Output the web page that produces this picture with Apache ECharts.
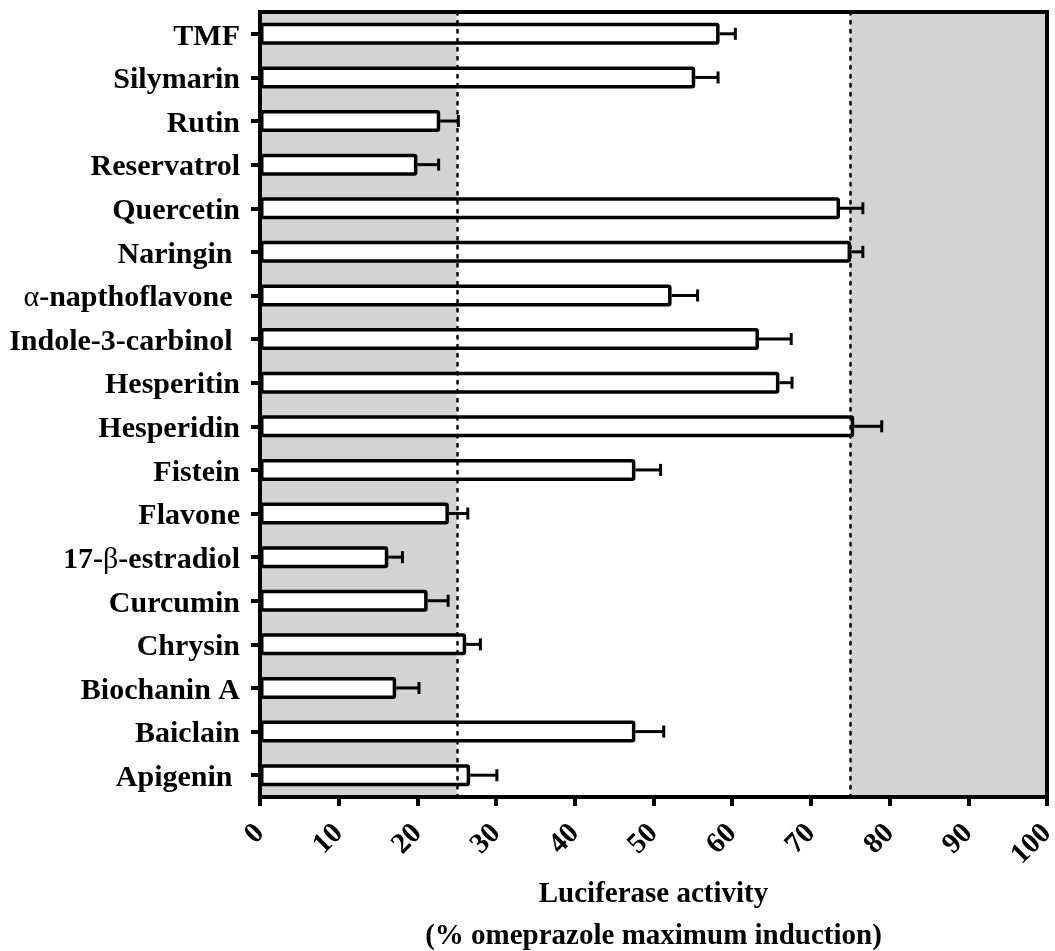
<!DOCTYPE html>
<html>
<head>
<meta charset="utf-8">
<script src="https://cdn.jsdelivr.net/npm/echarts@6/dist/echarts.min.js"></script>
<style>
  html, body { margin: 0; padding: 0; background: #fff; }
  #chart { width: 1055px; height: 951px; }
</style>
</head>
<body>
<div id="chart"></div>
<script>
// ---- data ----
const categories = ['TMF', 'Silymarin', 'Rutin', 'Reservatrol', 'Quercetin', 'Naringin ',
  'α-napthoflavone ', 'Indole-3-carbinol ', 'Hesperitin', 'Hesperidin', 'Fistein', 'Flavone',
  '17-β-estradiol', 'Curcumin', 'Chrysin', 'Biochanin A', 'Baiclain', 'Apigenin '];
const means = [58.4, 55.3, 22.9, 20.0, 73.7, 75.1, 52.3, 63.4, 66.0, 75.5, 47.7, 24.0, 16.3, 21.3, 26.2, 17.3, 47.7, 26.7];
const errors = [2.0, 2.9, 2.3, 2.7, 2.9, 1.5, 3.3, 4.1, 1.6, 3.5, 3.2, 2.4, 1.8, 2.6, 1.8, 2.9, 3.6, 3.4];
const xTicks = [0, 10, 20, 30, 40, 50, 60, 70, 80, 90, 100];
const shadedRanges = [[0, 25], [75, 100]];
const thresholds = [25, 75];
const xTitle = 'Luciferase activity\n(% omeprazole maximum induction)';

const FONT = '"Liberation Serif", "Times New Roman", serif';

const chart = echarts.init(document.getElementById('chart'), null, { renderer: 'canvas' });

function labelFmt(v) {
  // greek letters in regular weight, rest bold
  return v.split(/([αβ])/).filter(s => s.length).map(s =>
    (s === 'α' || s === 'β') ? '{g|' + s + '}' : '{b|' + s + '}').join('');
}

const option = {
  animation: false,
  backgroundColor: '#fff',
  grid: {
    left: 260, right: 8, top: 12, bottom: 154,
    containLabel: false, outerBoundsMode: 'none',
    show: true, z: 10, backgroundColor: 'transparent',
    borderColor: '#000', borderWidth: 4
  },
  xAxis: {
    type: 'value', min: xTicks[0], max: xTicks[xTicks.length - 1], interval: 10,
    z: 10,
    splitLine: { show: false },
    axisLine: { show: true, lineStyle: { color: '#000', width: 4 } },
    axisTick: { show: true, length: 9, lineStyle: { color: '#000', width: 4 } },
    axisLabel: {
      rotate: 45, margin: 32, color: '#000',
      fontFamily: FONT, fontWeight: 'bold', fontSize: 29
    },
    name: xTitle, nameLocation: 'middle', nameGap: 77, nameMoveOverlap: false,
    nameTextStyle: {
      fontFamily: FONT, fontWeight: 'bold', fontSize: 29, color: '#000',
      lineHeight: 42
    }
  },
  yAxis: {
    type: 'category', data: categories, inverse: true, z: 10,
    axisLine: { show: true, lineStyle: { color: '#000', width: 4 } },
    axisTick: { show: true, alignWithLabel: true, length: 9, lineStyle: { color: '#000', width: 4 } },
    axisLabel: {
      margin: 20, color: '#000',
      formatter: labelFmt,
      rich: {
        b: { fontFamily: FONT, fontWeight: 'bold', fontSize: 30, color: '#000', padding: [6, 0, 0, 0] },
        g: { fontFamily: FONT, fontWeight: 'normal', fontSize: 30, color: '#000', padding: [6, 0, 0, 0] }
      }
    },
    splitLine: { show: false }
  },
  series: [
    {
      // background shading + dotted thresholds
      type: 'line', data: [], z: 1, silent: true,
      markArea: {
        silent: true,
        itemStyle: { color: '#d3d3d3' },
        data: shadedRanges.map(r => [{ xAxis: r[0] }, { xAxis: r[1] }])
      },
      markLine: {
        silent: true, symbol: 'none', label: { show: false },
        lineStyle: { color: '#000', width: 2.5, type: [2.5, 6.5], cap: 'round' },
        data: thresholds.map(t => ({ xAxis: t }))
      }
    },
    {
      type: 'bar', data: means, z: 3, barWidth: 22,
      itemStyle: { color: '#fff', borderColor: '#000', borderWidth: 3.5, borderRadius: 1.5 }
    },
    {
      type: 'custom', z: 4,
      data: means.map((m, i) => [m, i, errors[i]]),
      renderItem: function (params, api) {
        const m = api.value(0), idx = api.value(1), e = api.value(2);
        const p0 = api.coord([m, idx]);
        const p1 = api.coord([m + e, idx]);
        const style = { stroke: '#000', lineWidth: 3 };
        return {
          type: 'group',
          children: [
            { type: 'line', shape: { x1: p0[0], y1: p0[1], x2: p1[0], y2: p1[1] }, style: style },
            { type: 'line', shape: { x1: p1[0], y1: p1[1] - 6, x2: p1[0], y2: p1[1] + 6 }, style: style }
          ]
        };
      }
    }
  ]
};
chart.setOption(option);
</script>
</body>
</html>
